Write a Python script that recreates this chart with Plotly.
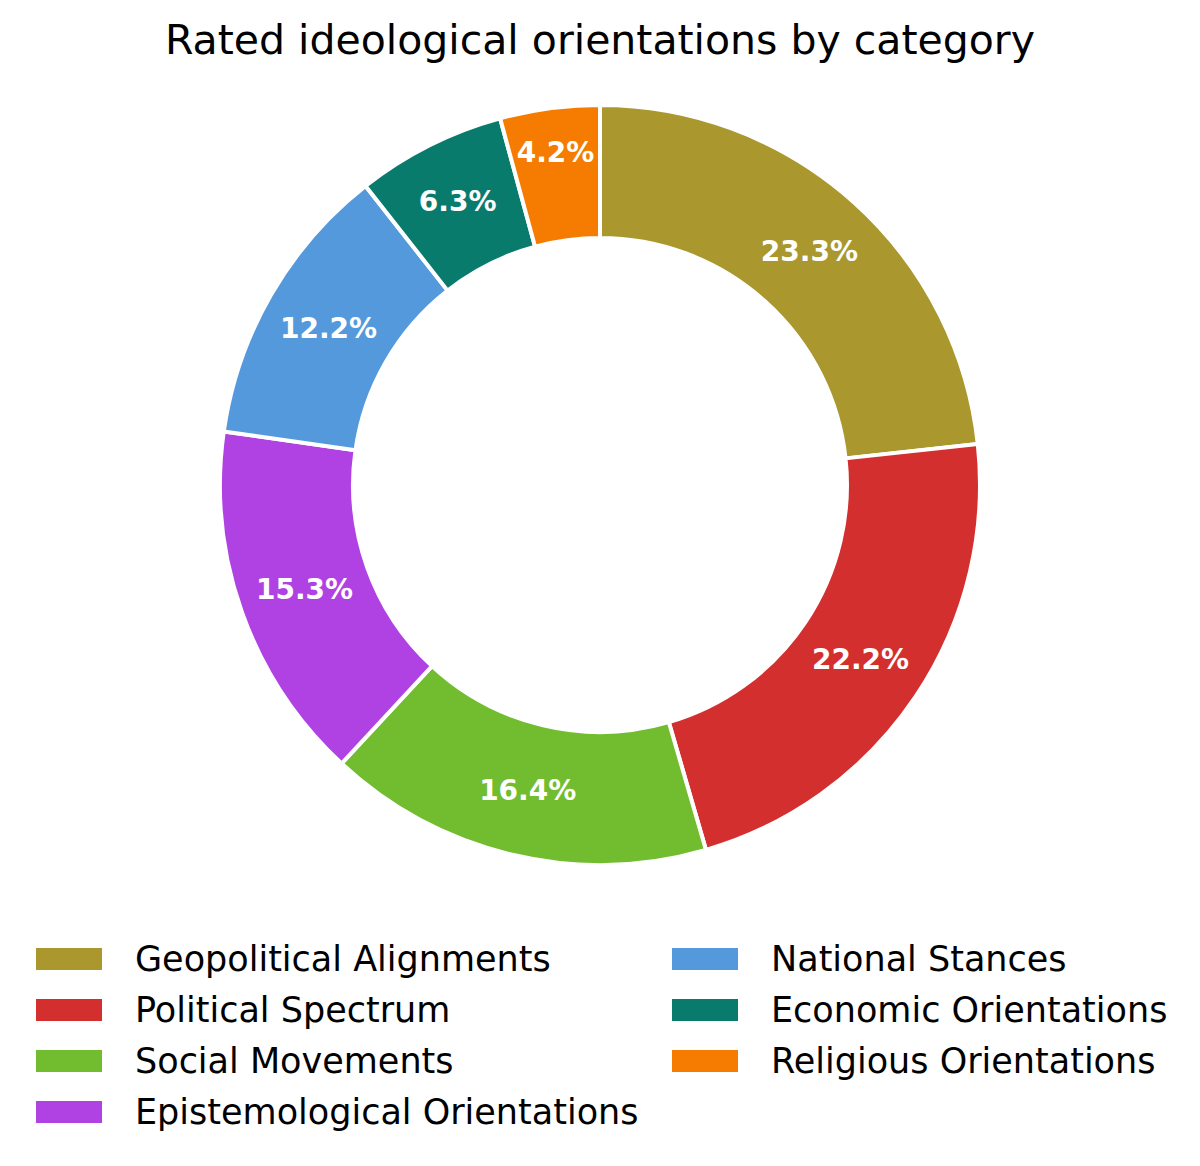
import plotly.graph_objects as go

# counts per category (shares)
categories = [
    "Geopolitical Alignments",
    "Political Spectrum",
    "Social Movements",
    "Epistemological Orientations",
    "National Stances",
    "Economic Orientations",
    "Religious Orientations",
]
counts = [44, 42, 31, 29, 23, 12, 8]
colors = ["#AA982F", "#D32F2F", "#72BD2F", "#B042E3", "#5599DD", "#087B6D", "#F57C00"]

W, H = 1200, 1166
FONT = "DejaVu Sans"
OFF = 8  # page body margin shifts the figure, compensate


def px(x):
    return (x - OFF) / W


def py(y):
    return 1 - (y - OFF) / H


fig = go.Figure()
fig.add_trace(go.Pie(
    labels=categories,
    values=counts,
    marker=dict(colors=colors, line=dict(color="white", width=4)),
    hole=0.65,
    sort=False,
    direction="clockwise",
    rotation=0,
    texttemplate="%{percent:.1%}",
    textposition="inside",
    insidetextorientation="horizontal",
    textfont=dict(family=FONT, size=28, color="white", weight="bold"),
    showlegend=False,
    domain=dict(x=[px(600 - 380), px(600 + 380)],
                y=[py(865), py(105)]),
))

# legend drawn by hand: two columns, filled column-wise like the original
shapes = []
annotations = []
for i, (name, col) in enumerate(zip(categories, colors)):
    c, r = divmod(i, 4)
    x0 = 36 + c * 636
    yc = 959 + r * 51
    shapes.append(dict(type="rect", xref="paper", yref="paper",
                       x0=px(x0), x1=px(x0 + 66),
                       y0=py(yc + 11), y1=py(yc - 11),
                       fillcolor=col, line=dict(width=0)))
    annotations.append(dict(text=name, xref="paper", yref="paper",
                            x=px(x0 + 97), y=py(yc),
                            xanchor="left", yanchor="middle", showarrow=False,
                            font=dict(family=FONT, size=35, color="black")))

fig.update_layout(
    title=dict(text="Rated ideological orientations by category",
               font=dict(family=FONT, size=41, color="black"),
               x=px(600), xanchor="center", y=py(40), yanchor="middle"),
    width=W, height=H,
    margin=dict(l=0, r=0, t=0, b=0),
    paper_bgcolor="white",
    plot_bgcolor="white",
    uniformtext=dict(minsize=28, mode="show"),
    shapes=shapes,
    annotations=annotations,
)

fig.write_html("out.html")
